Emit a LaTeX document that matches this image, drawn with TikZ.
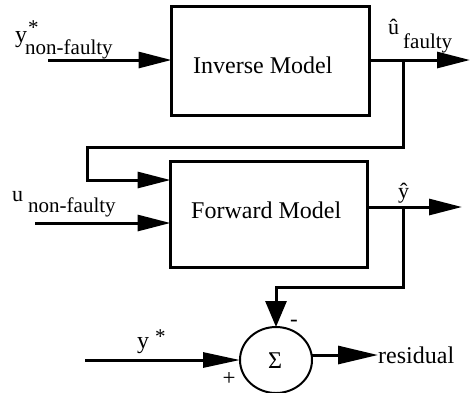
\documentclass[tikz,border=0pt]{standalone}
\usepackage{fontspec}
\setmainfont{Liberation Serif}
\usetikzlibrary{arrows.meta,shapes.geometric,calc}
\begin{document}
\begin{tikzpicture}[x=1pt,y=-1pt,
  block/.style={draw, rectangle, inner sep=0pt, outer sep=0pt},
  wire/.style={line width=3pt},
  flow/.style={wire, -{Triangle[length=33pt,width=16pt]}},
  big/.style={font=\fontsize{24}{28}\selectfont, inner sep=0pt, anchor=base west},
  small/.style={font=\fontsize{21}{25}\selectfont, inner sep=0pt, anchor=base west},
  signmark/.style={font=\fontsize{23}{27}\selectfont, inner sep=0pt},
]
\useasboundingbox (0,0) rectangle (470,392);

% blocks
\node[block, line width=3pt, minimum width=198pt, minimum height=109pt] (inv) at (270.5,61) {};
\node[block, line width=2.5pt, minimum width=197pt, minimum height=106pt] (fwd) at (269,214.5) {};
\node[draw, ellipse, line width=2pt, minimum width=72pt, minimum height=66pt,
      inner sep=0pt, outer sep=0pt] (sum) at (276,360) {};

\node[big] (invlabel) at (193,73) {Inverse Model};
\node[big] (fwdlabel) at (191,218) {Forward Model};
\node[font=\fontsize{24}{28}\selectfont, inner sep=0pt] (sigma) at (275,361) {Σ};
\node[font=\fontsize{24}{28}\selectfont, inner sep=0pt, anchor=west] (resid) at (378,355) {residual};

% signal labels
\node[big] (ylab) at (15,42) {y};
\node[small] (ystarmark) at (28,34) {*};
\node[small] (ysub) at (25,54) {non-faulty};
\node[font=\fontsize{22}{26}\selectfont, inner sep=0pt, anchor=base west] (uhatlab) at (388,34) {û};
\node[small] (uhatsub) at (403,48) {faulty};
\node[font=\fontsize{22}{26}\selectfont, inner sep=0pt, anchor=base west] (ulab) at (12,201) {u};
\node[small] (usub) at (28,212) {non-faulty};
\node[font=\fontsize{22}{26}\selectfont, inner sep=0pt, anchor=base west] (yhatlab) at (398,198) {ŷ};
\node[big] (ylab2) at (137,348) {y};
\node[small] (ystar2) at (155,343) {*};
\node[signmark] (plus) at (229,379) {+};
\node[signmark] (minus) at (294,323) {-};

% wiring points
\coordinate (yin) at (48,60);
\coordinate (uhat) at (470,60);
\coordinate (b1) at (403,60);
\coordinate (k1) at (87,147);
\coordinate (uin) at (35,223);
\coordinate (yhat) at (462,207);
\coordinate (b2) at (403,207);
\coordinate (k2) at (276,287);
\coordinate (ystar) at (85,360);

% connectors
\draw[flow] (yin) -- (yin -| inv.west);
\draw[flow] (inv.east |- uhat) -- (uhat);
\draw[flow] (b1) |- (k1) |- ($(fwd.north west)+(0,18.5)$);
\draw[flow] (uin) -- (uin -| fwd.west);
\draw[flow] (fwd.east |- yhat) -- (yhat);
\draw[wire, -{Triangle[length=26pt,width=21pt]}] (b2) |- (k2) -- (sum.north);
\draw[wire, -{Triangle[length=37pt,width=15pt]}] (ystar) -- (sum.west);
\draw[wire, -{Triangle[length=40pt,width=18pt]}] (sum.east |- resid.west) -- (resid.west);
\end{tikzpicture}
\end{document}
